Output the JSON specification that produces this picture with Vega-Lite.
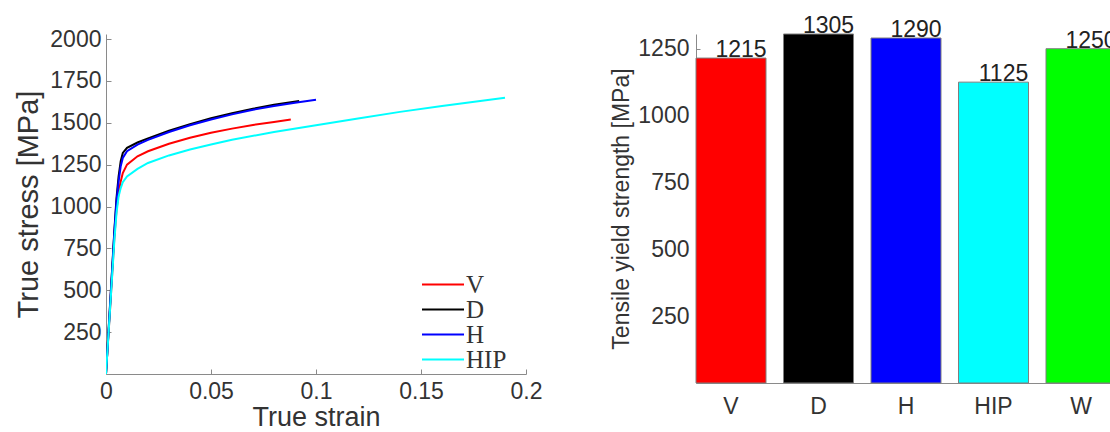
{
  "$schema": "https://vega.github.io/schema/vega-lite/v6.json",
  "background": "white",
  "padding": {"left": 14, "top": 15, "right": 0, "bottom": 0},
  "bounds": "flush",
  "spacing": 170,
  "resolve": {"scale": {"color": "independent"}, "legend": {"color": "independent"}},
  "config": {
    "view": {"stroke": null},
    "font": "Liberation Sans",
    "axis": {"grid": false, "domainColor": "#8a8a8a", "tickColor": "#8a8a8a", "labelColor": "#333333", "titleColor": "#333333", "titleFontWeight": "normal"}
  },
  "datasets": {
    "curves": [
      {"sample": "V", "strain": 0, "stress": 0},
      {"sample": "V", "strain": 0.002, "stress": 400},
      {"sample": "V", "strain": 0.004, "stress": 820},
      {"sample": "V", "strain": 0.005, "stress": 980},
      {"sample": "V", "strain": 0.006, "stress": 1080},
      {"sample": "V", "strain": 0.007, "stress": 1150},
      {"sample": "V", "strain": 0.008, "stress": 1200},
      {"sample": "V", "strain": 0.01, "stress": 1250},
      {"sample": "V", "strain": 0.015, "stress": 1300},
      {"sample": "V", "strain": 0.02, "stress": 1330},
      {"sample": "V", "strain": 0.03, "stress": 1375},
      {"sample": "V", "strain": 0.04, "stress": 1410},
      {"sample": "V", "strain": 0.05, "stress": 1440},
      {"sample": "V", "strain": 0.06, "stress": 1465},
      {"sample": "V", "strain": 0.07, "stress": 1487},
      {"sample": "V", "strain": 0.08, "stress": 1505},
      {"sample": "V", "strain": 0.088, "stress": 1520},
      {"sample": "D", "strain": 0, "stress": 0},
      {"sample": "D", "strain": 0.002, "stress": 430},
      {"sample": "D", "strain": 0.004, "stress": 860},
      {"sample": "D", "strain": 0.005, "stress": 1050},
      {"sample": "D", "strain": 0.006, "stress": 1180},
      {"sample": "D", "strain": 0.007, "stress": 1270},
      {"sample": "D", "strain": 0.008, "stress": 1320},
      {"sample": "D", "strain": 0.01, "stress": 1350},
      {"sample": "D", "strain": 0.015, "stress": 1382},
      {"sample": "D", "strain": 0.02, "stress": 1407},
      {"sample": "D", "strain": 0.03, "stress": 1452},
      {"sample": "D", "strain": 0.04, "stress": 1492},
      {"sample": "D", "strain": 0.05, "stress": 1527},
      {"sample": "D", "strain": 0.06, "stress": 1557},
      {"sample": "D", "strain": 0.07, "stress": 1584},
      {"sample": "D", "strain": 0.08, "stress": 1607},
      {"sample": "D", "strain": 0.092, "stress": 1630},
      {"sample": "H", "strain": 0, "stress": 0},
      {"sample": "H", "strain": 0.002, "stress": 420},
      {"sample": "H", "strain": 0.004, "stress": 850},
      {"sample": "H", "strain": 0.005, "stress": 1030},
      {"sample": "H", "strain": 0.006, "stress": 1150},
      {"sample": "H", "strain": 0.007, "stress": 1240},
      {"sample": "H", "strain": 0.008, "stress": 1290},
      {"sample": "H", "strain": 0.01, "stress": 1330},
      {"sample": "H", "strain": 0.015, "stress": 1370},
      {"sample": "H", "strain": 0.02, "stress": 1398},
      {"sample": "H", "strain": 0.03, "stress": 1445},
      {"sample": "H", "strain": 0.04, "stress": 1485},
      {"sample": "H", "strain": 0.05, "stress": 1520},
      {"sample": "H", "strain": 0.06, "stress": 1550},
      {"sample": "H", "strain": 0.07, "stress": 1578},
      {"sample": "H", "strain": 0.08, "stress": 1600},
      {"sample": "H", "strain": 0.09, "stress": 1620},
      {"sample": "H", "strain": 0.1, "stress": 1638},
      {"sample": "HIP", "strain": 0, "stress": 0},
      {"sample": "HIP", "strain": 0.002, "stress": 400},
      {"sample": "HIP", "strain": 0.004, "stress": 800},
      {"sample": "HIP", "strain": 0.005, "stress": 960},
      {"sample": "HIP", "strain": 0.006, "stress": 1060},
      {"sample": "HIP", "strain": 0.007, "stress": 1110},
      {"sample": "HIP", "strain": 0.008, "stress": 1145},
      {"sample": "HIP", "strain": 0.01, "stress": 1180},
      {"sample": "HIP", "strain": 0.015, "stress": 1225},
      {"sample": "HIP", "strain": 0.02, "stress": 1260},
      {"sample": "HIP", "strain": 0.03, "stress": 1305},
      {"sample": "HIP", "strain": 0.04, "stress": 1340},
      {"sample": "HIP", "strain": 0.05, "stress": 1370},
      {"sample": "HIP", "strain": 0.06, "stress": 1398},
      {"sample": "HIP", "strain": 0.08, "stress": 1445},
      {"sample": "HIP", "strain": 0.1, "stress": 1485},
      {"sample": "HIP", "strain": 0.12, "stress": 1525},
      {"sample": "HIP", "strain": 0.14, "stress": 1565},
      {"sample": "HIP", "strain": 0.16, "stress": 1600},
      {"sample": "HIP", "strain": 0.18, "stress": 1633},
      {"sample": "HIP", "strain": 0.19, "stress": 1650}
    ],
    "bars": [
      {"sample": "V", "strength": 1215},
      {"sample": "D", "strength": 1305},
      {"sample": "H", "strength": 1290},
      {"sample": "HIP", "strength": 1125},
      {"sample": "W", "strength": 1250}
    ]
  },
  "hconcat": [
    {
      "width": 420,
      "height": 340,
      "data": {"name": "curves"},
      "mark": {"type": "line", "strokeWidth": 2, "clip": true},
      "encoding": {
        "x": {"field": "strain", "type": "quantitative",
          "scale": {"domain": [0, 0.2], "nice": false},
          "axis": {"title": "True strain", "titleFontSize": 27, "titlePadding": 1, "labelFontSize": 23, "labelPadding": 11, "tickSize": -5, "values": [0, 0.05, 0.1, 0.15, 0.2], "format": "~g", "labelFlush": false}},
        "y": {"field": "stress", "type": "quantitative",
          "scale": {"domain": [0, 2030], "nice": false, "zero": true},
          "axis": {"title": "True stress [MPa]", "titleFontSize": 29, "titlePadding": 6, "labelFontSize": 23, "labelPadding": 10, "tickSize": -5, "values": [250, 500, 750, 1000, 1250, 1500, 1750, 2000], "format": "d", "labelFlush": false}},
        "color": {"field": "sample", "type": "nominal",
          "scale": {"domain": ["V", "D", "H", "HIP"], "range": ["#ff0000", "#000000", "#0000ff", "#00ffff"]},
          "legend": {"title": null, "orient": "none", "legendX": 315, "legendY": 239, "symbolType": "stroke", "symbolSize": 1764, "symbolStrokeWidth": 2, "labelFont": "Liberation Serif", "labelFontSize": 25, "labelColor": "#333333", "labelOffset": 1, "clipHeight": 23, "rowPadding": -1, "padding": 0}},
        "order": {"field": "strain", "type": "quantitative"}
      }
    },
    {
      "width": 420,
      "height": 349,
      "data": {"name": "bars"},
      "encoding": {
        "x": {"field": "sample", "type": "nominal", "sort": null,
          "scale": {"paddingInner": 0.2, "paddingOuter": 0},
          "axis": {"title": null, "labelAngle": 0, "ticks": false, "labelFontSize": 23, "labelPadding": 12}},
        "y": {"field": "strength", "type": "quantitative",
          "scale": {"domain": [0, 1305], "nice": false},
          "axis": {"title": "Tensile yield strength [MPa]", "titleFontSize": 23, "titlePadding": 4, "labelFontSize": 23, "labelPadding": 11, "tickSize": -4, "values": [250, 500, 750, 1000, 1250], "format": "d", "labelFlush": false}}
      },
      "layer": [
        {
          "mark": {"type": "bar", "stroke": "#7f7f7f", "strokeWidth": 1},
          "encoding": {
            "color": {"field": "sample", "type": "nominal", "legend": null,
              "scale": {"domain": ["V", "D", "H", "HIP", "W"], "range": ["#ff0000", "#000000", "#0000ff", "#00ffff", "#00ff00"]}}
          }
        },
        {
          "mark": {"type": "text", "baseline": "alphabetic", "dy": -1, "dx": 10, "fontSize": 23, "color": "#222222"},
          "encoding": {"text": {"field": "strength", "type": "quantitative", "format": "d"}}
        }
      ]
    }
  ]
}
